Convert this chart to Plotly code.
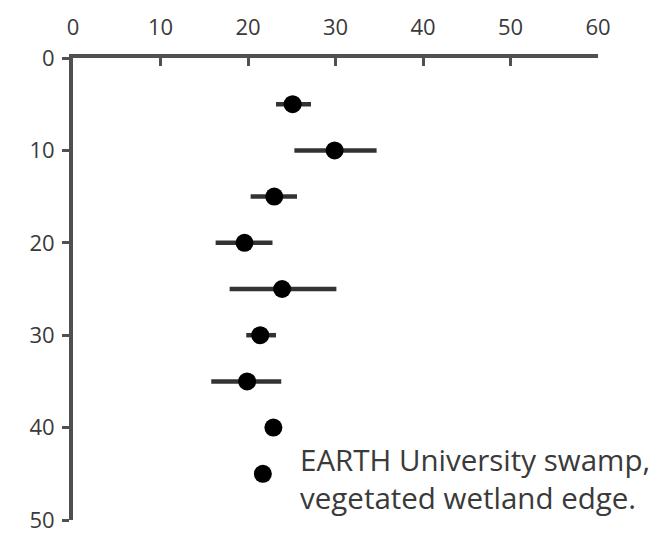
import plotly.graph_objects as go

depth = [5, 10, 15, 20, 25, 30, 35, 40, 45]
value = [25.1, 29.9, 23.0, 19.6, 23.9, 21.4, 19.9, 22.9, 21.7]
err_plus = [2.1, 4.8, 2.6, 3.2, 6.2, 1.8, 3.9, 0, 0]
err_minus = [1.9, 4.6, 2.7, 3.3, 6.0, 1.6, 4.1, 0, 0]
xticks = [0, 10, 20, 30, 40, 50, 60]
yticks = [0, 10, 20, 30, 40, 50]
note = "EARTH University swamp,<br>vegetated wetland edge."

fig = go.Figure()
fig.add_trace(go.Scatter(
    x=value, y=depth, mode="markers",
    marker=dict(color="black", size=18),
    error_x=dict(type="data", symmetric=False, array=err_plus, arrayminus=err_minus,
                 color="#333333", thickness=4.5, width=0),
    showlegend=False,
))

axis_font = dict(family="Open Sans, Liberation Sans, sans-serif", size=22, color="#3a3a3a")
fig.update_layout(
    width=660, height=538,
    margin=dict(l=73, r=62, t=58, b=18),
    paper_bgcolor="white", plot_bgcolor="white",
    xaxis=dict(range=[0, 60], side="top", tickvals=xticks, ticks="inside", ticklen=8,
               tickwidth=2.5, tickcolor="#505050", showline=True, linecolor="#505050",
               linewidth=4, showgrid=False, zeroline=False, tickfont=axis_font,
               ticklabelstandoff=10, automargin=False),
    yaxis=dict(range=[50, 0], tickvals=yticks, ticks="outside", ticklen=7,
               tickwidth=2.5, tickcolor="#505050", showline=True, linecolor="#505050",
               linewidth=4, showgrid=False, zeroline=False, tickfont=axis_font,
               ticklabelstandoff=3, automargin=False),
    annotations=[dict(x=0.4286, y=0.0, xref="paper", yref="paper", xanchor="left", yanchor="bottom",
                      text=note, showarrow=False, align="left",
                      font=dict(family="Open Sans, Liberation Sans, sans-serif", size=29.5, color="#3a3a3a"))],
)
fig.write_html("out.html")
